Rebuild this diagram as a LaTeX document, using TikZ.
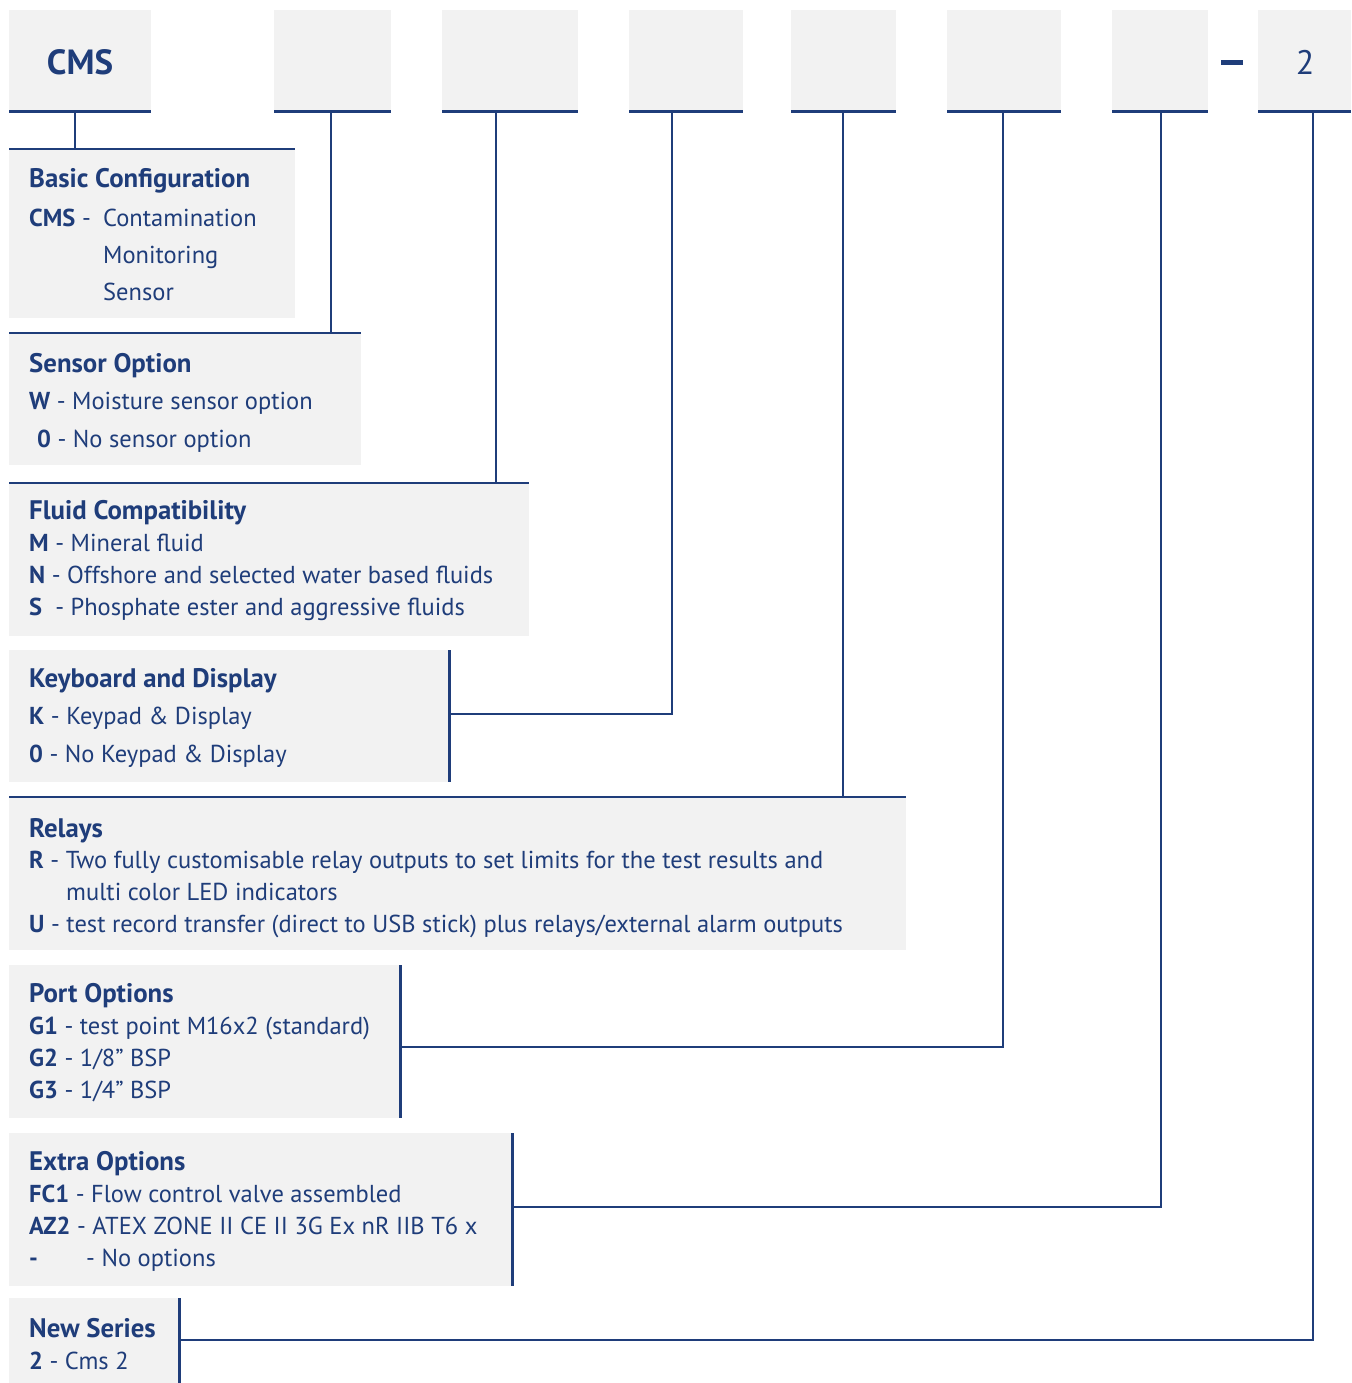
\documentclass[tikz,border=0pt]{standalone}
\usepackage{fontspec}
\setmainfont{PT Sans}
\definecolor{navy}{HTML}{1F3D7A}
\definecolor{boxgray}{HTML}{F2F2F2}
\begin{document}
\begin{tikzpicture}[x=1pt,y=-1pt,
  codebox/.style={fill=boxgray, draw=none, anchor=north west, inner sep=0},
  optbox/.style={fill=boxgray, draw=none, anchor=north west, inner sep=0},
  txt/.style={anchor=base west, text=navy, inner sep=0, font=\fontsize{24.5}{28}\selectfont},
  ttl/.style={txt, font=\fontsize{26.8}{30}\selectfont\bfseries},
  big/.style={text=navy, inner sep=0, font=\fontsize{34}{38}\selectfont},
  link/.style={draw=navy, line width=2.6pt}]
\useasboundingbox (0,0) rectangle (1351,1383);
% top code boxes
\node[codebox, minimum width=142, minimum height=101] (c1) at (9,10) {};
\node[codebox, minimum width=117, minimum height=101] (c2) at (274,10) {};
\node[codebox, minimum width=136, minimum height=101] (c3) at (442,10) {};
\node[codebox, minimum width=114, minimum height=101] (c4) at (629,10) {};
\node[codebox, minimum width=105, minimum height=101] (c5) at (791,10) {};
\node[codebox, minimum width=114, minimum height=101] (c6) at (947,10) {};
\node[codebox, minimum width=96, minimum height=101] (c7) at (1112,10) {};
\node[codebox, minimum width=93, minimum height=101] (c8) at (1258,10) {};
\foreach \c in {c1,c2,c3,c4,c5,c6,c7,c8}
  \draw[link] (\c.south west) -- (\c.south east);
\node[big, font=\fontsize{35}{38}\selectfont\bfseries] (cmst) at (80,62) {CMS};
\node[text=navy, inner sep=0] (dash) at (1232,63) {\rule{22pt}{5pt}};
\node[big] (twot) at (1305,62) {2};
% option boxes
\node[optbox, minimum width=286, minimum height=169] (oA) at (9,149) {};
\node[optbox, minimum width=352, minimum height=132] (oB) at (9,333) {};
\node[optbox, minimum width=520, minimum height=153] (oC) at (9,483) {};
\node[optbox, minimum width=440, minimum height=132] (oD) at (9,650) {};
\node[optbox, minimum width=897, minimum height=153] (oE) at (9,797) {};
\node[optbox, minimum width=391, minimum height=153] (oF) at (9,965) {};
\node[optbox, minimum width=503, minimum height=153] (oG) at (9,1133) {};
\node[optbox, minimum width=170, minimum height=85] (oH) at (9,1298) {};
% box edge lines
\draw[link] (oA.north west) -- (oA.north east);
\draw[link] (oB.north west) -- (oB.north east);
\draw[link] (oC.north west) -- (oC.north east);
\draw[link] (oD.north east) -- (oD.south east);
\draw[link] (oE.north west) -- (oE.north east);
\draw[link] (oF.north east) -- (oF.south east);
\draw[link] (oG.north east) -- (oG.south east);
\draw[link] (oH.north east) -- (oH.south east);
% connector start points
\coordinate (k1) at (75,111);
\coordinate (k2) at (331,111);
\coordinate (k3) at (496,111);
\coordinate (k4) at (672,111);
\coordinate (k5) at (843,111);
\coordinate (k6) at (1003,111);
\coordinate (k7) at (1161,111);
\coordinate (k8) at (1313,111);
\coordinate (j4) at (449,714);
\coordinate (j6) at (400,1047);
\coordinate (j7) at (512,1207);
\coordinate (j8) at (179,1340);
\draw[link] (k1) -- (k1 |- oA.north);
\draw[link] (k2) -- (k2 |- oB.north);
\draw[link] (k3) -- (k3 |- oC.north);
\draw[link] (k4) |- (j4);
\draw[link] (k5) -- (k5 |- oE.north);
\draw[link] (k6) |- (j6);
\draw[link] (k7) |- (j7);
\draw[link] (k8) |- (j8);
% texts A
\node[ttl] (a0) at (29,188) {Basic Configuration};
\node[txt] (a1) at (29,226) {\bfseries CMS\mdseries\ -};
\node[txt] (a2) at (103,226) {Contamination};
\node[txt] (a3) at (103,263) {Monitoring};
\node[txt] (a4) at (103,300) {Sensor};
% B
\node[ttl] (b0) at (29,372) {Sensor Option};
\node[txt] (b1) at (29,409) {\bfseries W\mdseries\ - Moisture sensor option};
\node[txt] (b2) at (37,447) {\bfseries 0\mdseries\ - No sensor option};
% C
\node[ttl] (cc0) at (29,519) {Fluid Compatibility};
\node[txt] (cc1) at (29,551) {\bfseries M\mdseries\ - Mineral fluid};
\node[txt] (cc2) at (29,583) {\bfseries N\mdseries\ - Offshore and selected water based fluids};
\node[txt] (cc3) at (29,615) {\bfseries S\mdseries\ \ - Phosphate ester and aggressive fluids};
% D
\node[ttl] (d0) at (29,687) {Keyboard and Display};
\node[txt] (d1) at (29,724) {\bfseries K\mdseries\ - Keypad \& Display};
\node[txt] (d2) at (29,762) {\bfseries 0\mdseries\ - No Keypad \& Display};
% E
\node[ttl] (e0) at (29,837) {Relays};
\node[txt] (e1) at (29,868) {\bfseries R\mdseries\ - Two fully customisable relay outputs to set limits for the test results and};
\node[txt] (e2) at (66,900) {multi color LED indicators};
\node[txt] (e3) at (29,932) {\bfseries U\mdseries\ - test record transfer (direct to USB stick) plus relays/external alarm outputs};
% F
\node[ttl] (f0) at (29,1002) {Port Options};
\node[txt] (f1) at (29,1034) {\bfseries G1\mdseries\ - test point M16x2 (standard)};
\node[txt] (f2) at (29,1066) {\bfseries G2\mdseries\ - 1/8" BSP};
\node[txt] (f3) at (29,1098) {\bfseries G3\mdseries\ - 1/4" BSP};
% G
\node[ttl] (g0) at (29,1170) {Extra Options};
\node[txt] (g1) at (29,1202) {\bfseries FC1\mdseries\ - Flow control valve assembled};
\node[txt] (g2) at (29,1234) {\bfseries AZ2\mdseries\ - ATEX ZONE II CE II 3G Ex nR IIB T6 x};
\node[txt] (g3) at (29,1266) {\bfseries -};
\node[txt] (g4) at (86,1266) {- No options};
% H
\node[ttl] (h0) at (29,1337) {New Series};
\node[txt] (h1) at (29,1369) {\bfseries 2\mdseries\ - Cms 2};
\end{tikzpicture}
\end{document}
